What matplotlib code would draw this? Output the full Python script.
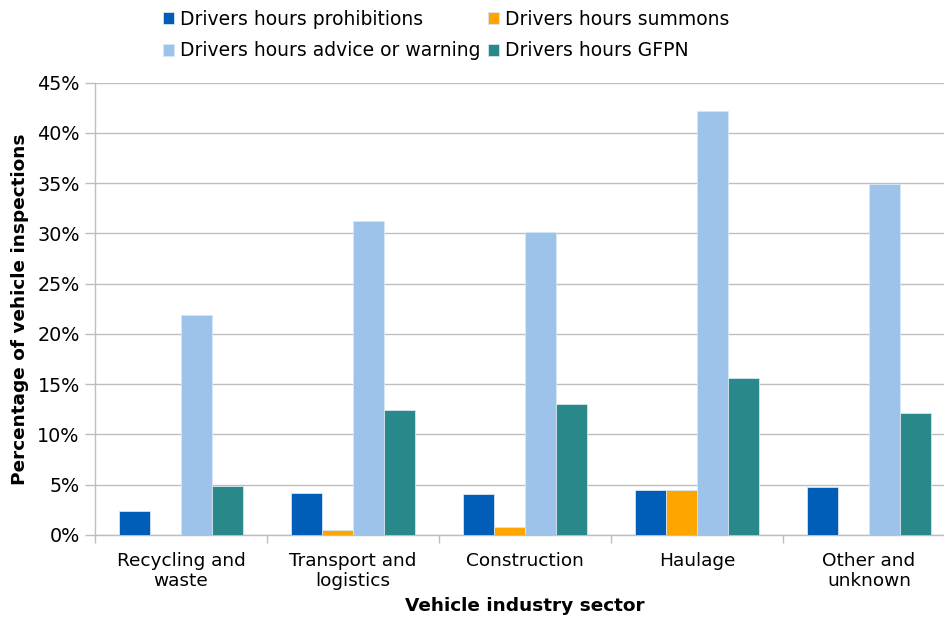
import matplotlib.pyplot as plt
import numpy as np
from matplotlib.ticker import FuncFormatter

sectors = ["Recycling and\nwaste", "Transport and\nlogistics", "Construction", "Haulage", "Other and\nunknown"]
prohibitions = [2.4, 4.2, 4.1, 4.5, 4.8]
summons = [0.0, 0.5, 0.8, 4.5, 0.0]
advice = [21.9, 31.2, 30.1, 42.2, 34.9]
gfpn = [4.9, 12.4, 13.0, 15.6, 12.1]

series_names = ["Drivers hours prohibitions", "Drivers hours summons",
                "Drivers hours advice or warning", "Drivers hours GFPN"]
colors = ["#005EB8", "#FFA500", "#9DC3EA", "#28888A"]

plt.rcParams['font.family'] = ['DejaVu Sans']

fig = plt.figure(figsize=(9.44, 6.19), dpi=100)
ax = fig.add_axes([95 / 944, 84 / 619, 860 / 944, 452.3 / 619])

x = np.arange(len(sectors))
w = 0.18
bars = []
for i, (vals, name, c) in enumerate(zip([prohibitions, summons, advice, gfpn], series_names, colors)):
    b = ax.bar(x + (i - 1.5) * w, vals, width=w, color=c, label=name,
               edgecolor="#d8e6f2", linewidth=0.6, zorder=3)
    bars.append(b)

ax.set_xlim(-0.5, len(sectors) - 0.5)
ax.set_ylim(0, 45)
ax.set_yticks(np.arange(0, 46, 5))
ax.yaxis.set_major_formatter(FuncFormatter(lambda v, p: f"{v:.0f}%"))
ax.grid(axis="y", color="#BEBEBE", linewidth=1.0, zorder=0)

ax.set_xticks(x)
ax.set_xticklabels(sectors)
ax.set_xticks(np.arange(-0.5, len(sectors), 1), minor=True)
ax.tick_params(axis="x", which="major", length=0, pad=12, labelsize=13.3)
ax.tick_params(axis="x", which="minor", length=6, color="#BEBEBE", width=1, direction="out")
ax.tick_params(axis="y", length=7, color="#BEBEBE", width=1, labelsize=13.8, pad=4)

for s in ["top", "right"]:
    ax.spines[s].set_visible(False)
for s in ["left", "bottom"]:
    ax.spines[s].set_color("#BEBEBE")
    ax.spines[s].set_linewidth(1)

ax.set_ylabel("Percentage of vehicle inspections", fontsize=13.3, fontweight="bold", labelpad=6)
ax.set_xlabel("Vehicle industry sector", fontsize=13.3, fontweight="bold", labelpad=5)

handles = [bars[0], bars[2], bars[1], bars[3]]
labels = [series_names[0], series_names[2], series_names[1], series_names[3]]
fig.legend(handles, labels, ncol=2, loc="upper left", bbox_to_anchor=(150 / 944, 1.005),
           frameon=False, fontsize=13.5, handlelength=0.6, handleheight=0.6,
           handletextpad=0.3, columnspacing=0.4, labelspacing=0.65, borderaxespad=0.3)

fig.savefig("out.png", dpi=100)
